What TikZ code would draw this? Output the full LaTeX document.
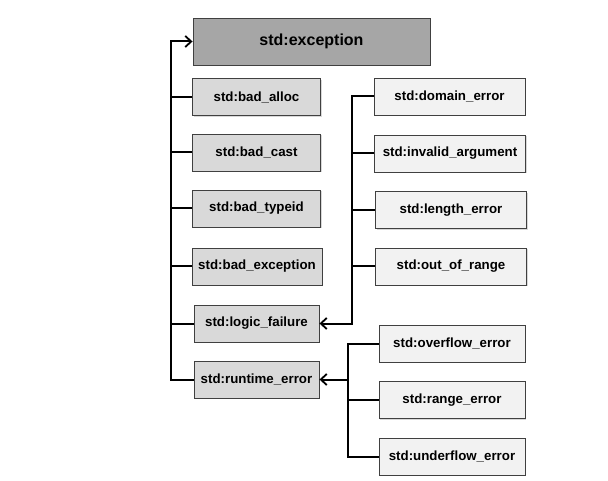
\documentclass[tikz,border=0pt]{standalone}
\usepackage{fontspec}
\setmainfont{Liberation Sans}
\usetikzlibrary{arrows.meta,shadows}
\definecolor{dark}{HTML}{A6A6A6}
\definecolor{mid}{HTML}{D9D9D9}
\definecolor{light}{HTML}{F2F2F2}
\definecolor{edge}{HTML}{404040}
\tikzset{
  box/.style={draw=edge, line width=0.9pt, font=\bfseries\fontsize{13.3}{15}\selectfont,
    inner sep=0pt, minimum height=37pt,
    drop shadow={shadow xshift=1.2pt, shadow yshift=-1.2pt, fill=black!25, opacity=0.6}},
  topbox/.style={box, fill=dark, minimum width=237pt, minimum height=47pt, font=\bfseries\fontsize{16}{18}\selectfont},
  leftbox/.style={box, fill=mid, minimum width=128pt},
  rightbox/.style={box, fill=light, minimum width=151pt},
  lowbox/.style={box, fill=light, minimum width=146pt},
  conn/.style={line width=2pt, draw=black},
  tip/.style={-{Straight Barb[length=6pt,width=11pt,line width=1.8pt]}}
}
\begin{document}
\begin{tikzpicture}[x=1pt,y=-1pt]
\useasboundingbox (0,0) rectangle (608,481);
\fill[white] (0,0) rectangle (608,481);
\node[topbox] (exception) at (311.5,41.5) {std:exception};
\node[leftbox] (alloc) at (256.5,97) {std:bad\_alloc};
\node[leftbox] (cast) at (256.5,152.5) {std:bad\_cast};
\node[leftbox] (typeid) at (256.5,208.5) {std:bad\_typeid};
\node[leftbox, minimum width=130pt] (badexc) at (257,266.5) {std:bad\_exception};
\node[leftbox, minimum width=125pt] (logic) at (256.5,323.5) {std:logic\_failure};
\node[leftbox, minimum width=125pt] (runtime) at (256.5,379.5) {std:runtime\_error};
\node[rightbox] (domain) at (449.5,96.5) {std:domain\_error};
\node[rightbox] (invalid) at (450,153.5) {std:invalid\_argument};
\node[rightbox] (length) at (451,210) {std:length\_error};
\node[rightbox] (range) at (451,266.5) {std:out\_of\_range};
\node[lowbox] (overflow) at (452,343.5) {std:overflow\_error};
\node[lowbox] (rangeerr) at (452,400) {std:range\_error};
\node[lowbox] (underflow) at (452,456.5) {std:underflow\_error};
\coordinate (busL) at (171,0);
\coordinate (busR) at (352,0);
\coordinate (busB) at (348,0);
% left bus
\draw[conn, tip] (runtime.west) -- (runtime.west -| busL) -- (exception.west -| busL) -- (exception.west);
\foreach \n in {alloc,cast,typeid,badexc,logic}
  \draw[conn] (\n.west) -- (\n.west -| busL);
% right bus
\draw[conn, tip] (domain.west) -- (domain.west -| busR) -- (logic.east -| busR) -- (logic.east);
\foreach \n in {invalid,length,range}
  \draw[conn] (\n.west) -- (\n.west -| busR);
% bottom bus
\draw[conn] (overflow.west) -- (overflow.west -| busB) -- (underflow.west -| busB) -- (underflow.west);
\draw[conn] (rangeerr.west) -- (rangeerr.west -| busB);
\draw[conn, tip] (runtime.east -| busB) -- (runtime.east);
\end{tikzpicture}
\end{document}
